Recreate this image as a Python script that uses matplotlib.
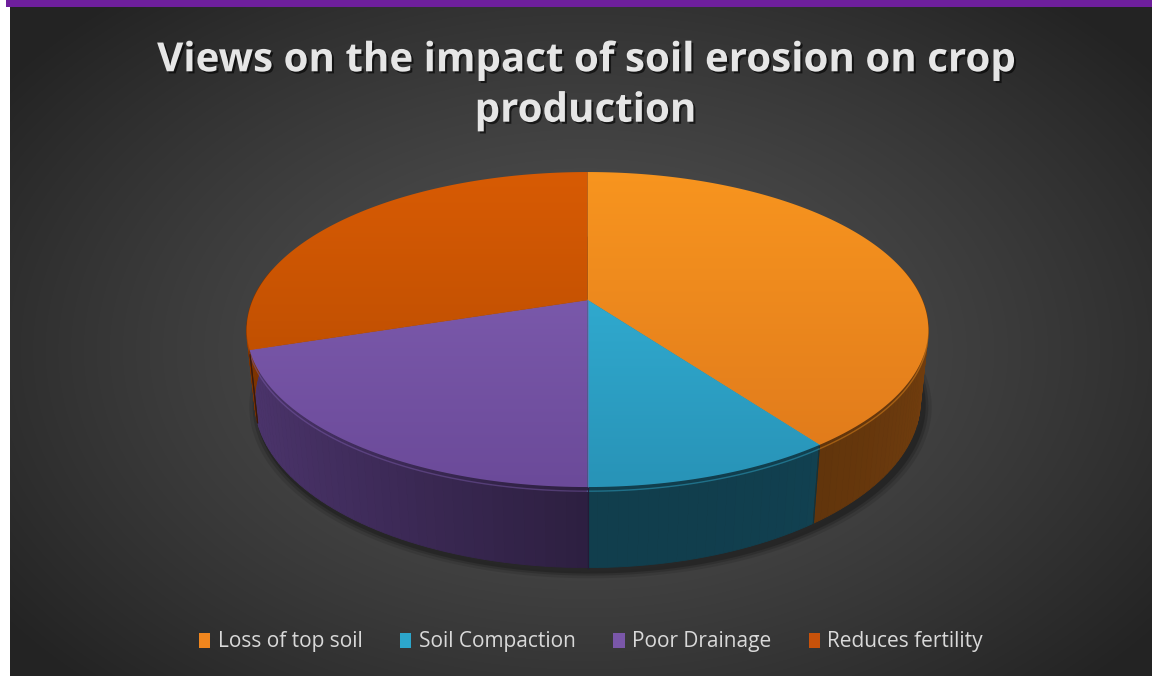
import numpy as np
import matplotlib.pyplot as plt
import matplotlib.patheffects as pe
from matplotlib.patches import Polygon, Rectangle, Patch
from matplotlib.colors import to_rgb

# survey answers (share of respondents, %)
labels = ['Loss of top soil', 'Soil Compaction', 'Poor Drainage', 'Reduces fertility']
values = [40, 10, 20, 30]

top_light = ['#F8951F', '#35B8DE', '#8462B6', '#D85B04']
top_dark = ['#DE781B', '#2893B7', '#6B4A99', '#B04800']
legend_colors = ['#F0861E', '#2CA6CB', '#7A57A9', '#C8520A']

W, H = 1152, 676

# 3d pie camera
CX, CY = 587.5, 300.0
PHI = np.radians(27)
DIST = 4.75
FOCAL = 1590.0
THICK = 0.24


def project(theta, z):
    # theta in degrees, clockwise from 12 o'clock; z = 0 top face, -THICK bottom
    X = np.sin(np.radians(theta))
    Y = np.cos(np.radians(theta))
    yc = Y * np.sin(PHI) + z * np.cos(PHI)
    depth = DIST + Y * np.cos(PHI) - z * np.sin(PHI)
    return CX + FOCAL * X / depth, CY - FOCAL * yc / depth


def center_point(z):
    yc = z * np.cos(PHI)
    depth = DIST - z * np.sin(PHI)
    return CX, CY - FOCAL * yc / depth


def shade(color, k):
    return tuple(np.clip(np.array(to_rgb(color)) * k, 0, 1))


fig = plt.figure(figsize=(W / 100, H / 100), dpi=100)
fig.patch.set_facecolor('white')
ax = fig.add_axes([0, 0, 1, 1])
ax.set_xlim(0, W)
ax.set_ylim(H, 0)
ax.axis('off')

# dark radial background
yy, xx = np.mgrid[7:H, 10:W]
r = np.sqrt(((xx - 585) / 720.0) ** 2 + ((yy - 350) / 470.0) ** 2)
t = np.clip(r, 0, 1) ** 1.3
c0 = np.array(to_rgb('#535353'))
c1 = np.array(to_rgb('#232323'))
bg = c0[None, None, :] * (1 - t[..., None]) + c1[None, None, :] * t[..., None]
ax.imshow(bg, extent=(10, W, H, 7), origin='upper', zorder=0, aspect='auto')
ax.add_patch(Rectangle((6, 0), W - 6, 7, facecolor='#6E1F9C', edgecolor='none', zorder=1))

bounds = np.concatenate([[0], np.cumsum(values)]) / sum(values) * 360.0

# soft shadow under the pie, falling to the lower right
ring = np.linspace(0, 360, 241)
for i, grow in enumerate([1.025, 1.015, 1.007]):
    sx, sy = project(ring, -THICK)
    px = CX + 3 + (sx - CX) * grow
    py = CY + 4 + (sy - CY) * grow
    ax.add_patch(Polygon(np.column_stack([px, py]), closed=True, facecolor='black',
                         edgecolor='none', alpha=0.10 + 0.05 * i, zorder=2))

# outer wall, front half only
for i in range(len(values)):
    a0, a1 = bounds[i], bounds[i + 1]
    lo, hi = max(a0, 78.0), min(a1, 282.0)
    if lo >= hi:
        continue
    steps = np.linspace(lo, hi, int((hi - lo) / 1.5) + 2)
    for s0, s1 in zip(steps[:-1], steps[1:]):
        mid = np.radians((s0 + s1) / 2)
        k = 0.42 + 0.30 * max(0.0, -np.sin(mid)) + 0.10 * max(0.0, np.sin(mid)) ** 3
        col = shade(top_dark[i], k)
        xt0, yt0 = project(s0, 0)
        xt1, yt1 = project(s1, 0)
        xb1, yb1 = project(s1, -THICK)
        xb0, yb0 = project(s0, -THICK)
        ax.add_patch(Polygon([(xt0, yt0), (xt1, yt1), (xb1, yb1), (xb0, yb0)], closed=True,
                             facecolor=col, edgecolor=col, linewidth=0.6, zorder=3))
    # slice seam on the wall
    for edge in (a0, a1):
        if 80 < edge < 280:
            xa, ya = project(edge, 0)
            xb, yb = project(edge, -THICK)
            ax.plot([xa, xb], [ya, yb], color=shade(top_dark[i], 0.35), lw=0.8, zorder=4)
    # light rim along the top edge of the wall
    rim = np.linspace(lo, hi, 60)
    rx, ry = project(rim, -0.012)
    ax.plot(rx, ry, color=shade(top_light[i], 0.95), lw=1.0, alpha=0.45, zorder=4)

# top faces with vertical gradient
ys_top = CY - FOCAL * np.sin(PHI) / (DIST + np.cos(PHI))
ys_bot = CY + FOCAL * np.sin(PHI) / (DIST - np.cos(PHI))
grad_rows = np.linspace(0, 1, 200)[:, None]
for i in range(len(values)):
    a0, a1 = bounds[i], bounds[i + 1]
    arc = np.linspace(a0, a1, max(int(a1 - a0), 2) + 1)
    ax_, ay_ = project(arc, 0)
    pts = [center_point(0)] + list(zip(ax_, ay_))
    poly = Polygon(pts, closed=True, facecolor='none', edgecolor='none', zorder=5)
    ax.add_patch(poly)
    cl = np.array(to_rgb(top_light[i]))
    cd = np.array(to_rgb(top_dark[i]))
    img = cl[None, None, :] * (1 - grad_rows[..., None]) + cd[None, None, :] * grad_rows[..., None]
    im = ax.imshow(img, extent=(CX - 360, CX + 360, ys_bot + 2, ys_top - 2), origin='upper',
                   aspect='auto', zorder=5, interpolation='bilinear')
    im.set_clip_path(poly)
    ax.plot([p[0] for p in pts[:2]], [p[1] for p in pts[:2]], color=top_light[i],
            lw=0.6, alpha=0.5, zorder=6)

ax.set_xlim(0, W)
ax.set_ylim(H, 0)

ax.text(585, 86, 'Views on the impact of soil erosion on crop\nproduction',
        ha='center', va='center', fontsize=29, fontweight='bold', family='Open Sans',
        color='#E6E6E6', linespacing=1.38, zorder=10,
        path_effects=[pe.withSimplePatchShadow(offset=(1.5, -1.5), shadow_rgbFace='black', alpha=0.6)])

handles = [Patch(facecolor=c, edgecolor='none') for c in legend_colors]
leg = ax.legend(handles, labels, loc='center', bbox_to_anchor=(591 / W, 1 - 642 / H), ncol=4,
                frameon=False, prop={'family': 'Open Sans', 'size': 15},
                handlelength=0.55, handleheight=0.7, handletextpad=0.35, columnspacing=1.8)
for txt in leg.get_texts():
    txt.set_color('#D9D9D9')

fig.savefig('out.png', dpi=100, facecolor=fig.get_facecolor())
